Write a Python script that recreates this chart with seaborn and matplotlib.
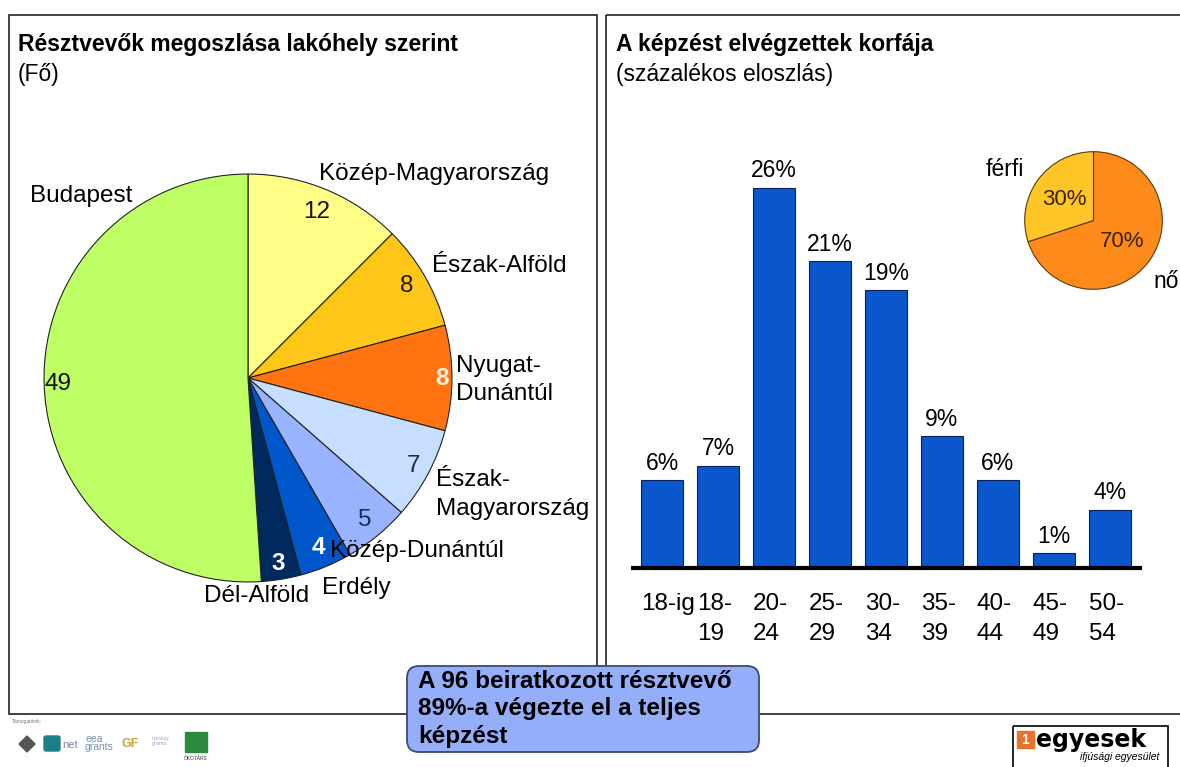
import matplotlib
matplotlib.use("Agg")
import matplotlib.pyplot as plt
from matplotlib.patches import Rectangle, FancyBboxPatch, Polygon
import numpy as np
import pandas as pd
import seaborn as sns

W, H = 1180, 767

# --- data ---
REGIONS = ["Közép-Magyarország", "Észak-Alföld", "Nyugat-\nDunántúl", "Észak-\nMagyarország",
           "Közép-Dunántúl", "Erdély", "Dél-Alföld", "Budapest"]
REGION_COUNTS = [12, 8, 8, 7, 5, 4, 3, 49]

AGE_GROUPS = ["18-ig", "18-\n19", "20-\n24", "25-\n29", "30-\n34", "35-\n39", "40-\n44", "45-\n49", "50-\n54"]
AGE_SHARE = [6, 7, 26, 21, 19, 9, 6, 1, 4]

GENDERS = ["nő", "férfi"]
GENDER_SHARE = [70, 30]

# --- styling ---
REGION_COLORS = ["#FFFF88", "#FFC61A", "#FF7410", "#C6DEFF", "#99B3FF", "#0057CC", "#002A5E", "#BFFF66"]
VALUE_COLORS = ["#111111", "#2a1a00", "#FFF0DC", "#1a2a5a", "#1a2a5a", "#FFFFFF", "#FFFFFF", "#111111"]
VALUE_DIST = [0.88, 0.9, 0.95, 0.92, 0.9, 0.9, 0.92, 0.93]
# label anchor points in pie units (radius = 1)
LABEL_XY = [(0.91, 1.0, "center"), (0.90, 0.55, "left"), (1.02, -0.01, "left"), (0.92, -0.57, "left"),
            (0.83, -0.85, "center"), (0.53, -1.03, "center"), (0.04, -1.07, "center"), (-0.82, 0.89, "center")]
BAR_COLOR = "#0A56CC"
GENDER_COLORS = ["#FF8A1C", "#FFC425"]

FONT = ["Liberation Sans", "DejaVu Sans"]


def px_rect(x0, y0, x1, y1):
    return [x0 / W, 1 - y1 / H, (x1 - x0) / W, (y1 - y0) / H]


sns.set_theme(style="white")
plt.rcParams["font.family"] = FONT
plt.rcParams["text.color"] = "black"
plt.rcParams["xtick.color"] = "black"

fig = plt.figure(figsize=(W / 100, H / 100), dpi=100)
fig.patch.set_facecolor("white")

# --- left: regions pie ---
ax_pie = fig.add_axes(px_rect(42, 172, 454, 584))
total = sum(REGION_COUNTS)
wedges, _, autotexts = ax_pie.pie(
    REGION_COUNTS, colors=REGION_COLORS, startangle=90, counterclock=False,
    autopct=lambda p: f"{p * total / 100:.0f}", pctdistance=0.9,
    wedgeprops=dict(edgecolor="#222222", linewidth=0.8), textprops=dict(fontsize=17.5),
)
for w, t, c, d in zip(wedges, autotexts, VALUE_COLORS, VALUE_DIST):
    mid = np.deg2rad((w.theta1 + w.theta2) / 2)
    t.set_position((d * np.cos(mid), d * np.sin(mid)))
    t.set_color(c)
    if c.upper().startswith("#FFF"):
        t.set_fontweight("bold")
for name, (lx, ly, ha) in zip(REGIONS, LABEL_XY):
    ax_pie.text(lx, ly, name, ha=ha, va="center", fontsize=17.5, linespacing=1.4)
ax_pie.set_xlim(-1.01, 1.01)
ax_pie.set_ylim(-1.01, 1.01)
ax_pie.set_aspect("auto")
ax_pie.axis("off")

# --- right: age bars ---
ax_bar = fig.add_axes(px_rect(633, 150, 1140, 568))
df_age = pd.DataFrame({"age": AGE_GROUPS, "share": AGE_SHARE})
sns.barplot(data=df_age, x="age", y="share", color=BAR_COLOR, saturation=1, width=0.75,
            edgecolor="#0a1f5c", linewidth=0.8, ax=ax_bar)
ax_bar.bar_label(ax_bar.containers[0], labels=[f"{v}%" for v in AGE_SHARE], padding=4, fontsize=16.5)
ax_bar.set_xlim(-0.52, 8.54)
ax_bar.set_ylim(0, 28.6)
ax_bar.set_xticks(np.arange(len(AGE_GROUPS)) - 0.375)
ax_bar.set_xticklabels(AGE_GROUPS, ha="left", va="top", fontsize=17.5, linespacing=1.45)
ax_bar.tick_params(axis="x", length=0, pad=18)
ax_bar.set_yticks([])
ax_bar.set_xlabel("")
ax_bar.set_ylabel("")
for s in ["top", "left", "right"]:
    ax_bar.spines[s].set_visible(False)
ax_bar.spines["bottom"].set_linewidth(3)
ax_bar.spines["bottom"].set_color("black")
ax_bar.patch.set_alpha(0)

# --- right: gender pie ---
ax_g = fig.add_axes(px_rect(1024, 151, 1163, 290))
ax_g.pie(GENDER_SHARE, colors=GENDER_COLORS, startangle=90, counterclock=False,
         autopct="%d%%", pctdistance=0.52,
         wedgeprops=dict(edgecolor="#5a3a10", linewidth=0.8),
         textprops=dict(fontsize=16, color="#3a2400"))
ax_g.set_xlim(-1.01, 1.01)
ax_g.set_ylim(-1.01, 1.01)
ax_g.set_aspect("auto")
ax_g.axis("off")

# --- overlay in pixel coordinates: frames, titles, callout, logos ---
ov = fig.add_axes([0, 0, 1, 1])
ov.set_xlim(0, W)
ov.set_ylim(H, 0)
ov.axis("off")
ov.patch.set_alpha(0)

ov.add_patch(Rectangle((9, 15), 588, 699, fill=False, edgecolor="#222222", lw=1.2))
ov.add_patch(Rectangle((606, 15), 600, 699, fill=False, edgecolor="#222222", lw=1.2, clip_on=False))

ov.text(18, 45, "Résztvevők megoszlása lakóhely szerint", fontsize=16.5, fontweight="bold", va="center")
ov.text(18, 74, "(Fő)", fontsize=16.5, va="center")
ov.text(616, 45, "A képzést elvégzettek korfája", fontsize=16.5, fontweight="bold", va="center")
ov.text(616, 74, "(százalékos eloszlás)", fontsize=16.5, va="center")

ov.text(1005, 170, GENDERS[1], fontsize=16.5, ha="center", va="center")
ov.text(1153, 282, GENDERS[0], fontsize=16.5, ha="left", va="center")

ov.add_patch(FancyBboxPatch((407, 666), 352, 86, boxstyle="round,pad=0,rounding_size=12",
                            facecolor="#94AEFA", edgecolor="#3d4a6a", lw=1.3, zorder=5))
ov.text(418, 709, "A 96 beiratkozott résztvevő\n89%-a végezte el a teljes\nképzést",
        fontsize=17.5, fontweight="bold", va="center", ha="left", linespacing=1.27, zorder=6)

# sponsor logos (rough)
ov.text(12, 722, "Támogatóink:", fontsize=3.5, color="#777777", va="center")
ov.add_patch(Polygon([(27, 736), (35, 744), (27, 752), (19, 744)], closed=True, color="#555555"))
ov.text(27, 758, "····", fontsize=3, color="#888888", ha="center")
ov.add_patch(FancyBboxPatch((44, 736), 16, 15, boxstyle="round,pad=0,rounding_size=2", color="#1f7d86"))
ov.text(62, 745, "net", fontsize=8, color="#7a8a9a", va="center")
ov.text(85, 743, "eea\ngrants", fontsize=7.5, color="#7892b0", va="center", linespacing=0.8)
ov.text(122, 744, "GF", fontsize=9, color="#c9a347", va="center", fontweight="bold")
ov.text(152, 741, "norway\ngrants", fontsize=4, color="#9aaacc", va="center")
ov.add_patch(Rectangle((185, 732), 22, 20, color="#2b8a3e"))
ov.text(196, 759, "ÖKOTÁRS", fontsize=3.5, color="#333333", ha="center", va="center")

# egyesek logo
ov.add_patch(Rectangle((1013, 726), 155, 50, fill=False, edgecolor="black", lw=1.2, clip_on=False))
ov.add_patch(Rectangle((1017, 731), 17, 17, color="#E8742A"))
ov.text(1025.5, 739.5, "1", fontsize=10, color="white", fontweight="bold", ha="center", va="center")
ov.text(1036, 740, "egyesek", fontsize=17, fontweight="bold", va="center", family=["DejaVu Sans"])
ov.text(1120, 757, "ifjúsági egyesület", fontsize=7.5, style="italic", ha="center", va="center")

fig.savefig("out.png", dpi=100)
